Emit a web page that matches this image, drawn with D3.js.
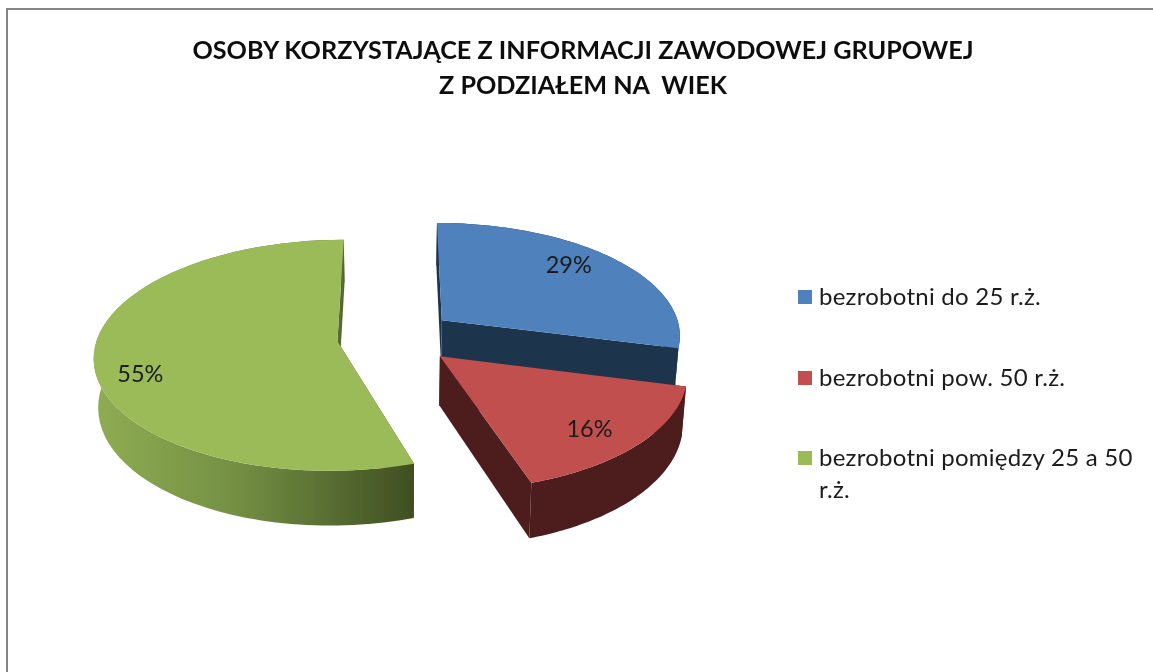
<!DOCTYPE html>
<html><head><meta charset="utf-8">
<script src="https://cdnjs.cloudflare.com/ajax/libs/d3/7.8.5/d3.min.js"></script>
<style>html,body{margin:0;background:#fff;overflow:hidden}svg{display:block}</style></head>
<body><svg id="c" width="1153" height="672"></svg>
<script>
const categories = ["bezrobotni do 25 r.ż.", "bezrobotni pow. 50 r.ż.", "bezrobotni pomiędzy 25 a 50 r.ż."];
const values = [29, 16, 55];
const topColors = ["#4f81bd", "#c0504d", "#9bbb59"];
const sideColors = ["#1f344e", "#4e1e1c", "url(#greenSide)"];
const titleLines = ["OSOBY KORZYSTAJĄCE Z INFORMACJI ZAWODOWEJ GRUPOWEJ", "Z PODZIAŁEM NA  WIEK"];

const W = 1153, H = 672;
const svg = d3.select("#c");
const R = 240, explode = 59, depth = 48, k = 0.47, persp = 0.12, cx = 396, cy = 337;
const labelRadius = [0.8, 0.8, 0.83], labelShift = [-0.09, 0.05, -0.185];

const pie = d3.pie().sort(null).value(d => d)(values);

// ground plane -> screen, with a single vanishing point
function proj(X, Z, low) {
  const s = 1 / (1 - persp * Z / R);
  const shrink = low ? 0.985 : 1;
  return [cx + X * s * shrink, cy + k * Z * s + (low ? depth * s : 0)];
}
const line = d3.line();

const defs = svg.append("defs");
const g = defs.append("linearGradient").attr("id", "greenSide").attr("gradientUnits", "userSpaceOnUse")
  .attr("x1", 93).attr("x2", 416).attr("y1", 0).attr("y2", 0);
g.append("stop").attr("offset", 0).attr("stop-color", "#8fad53");
g.append("stop").attr("offset", 0.45).attr("stop-color", "#738f43");
g.append("stop").attr("offset", 1).attr("stop-color", "#3f4e22");
defs.append("filter").attr("id", "soft").attr("x", "-5%").attr("y", "-5%").attr("width", "110%").attr("height", "110%")
  .append("feGaussianBlur").attr("stdDeviation", 0.55);

const root = svg.append("g").attr("filter", "url(#soft)");

// frame
root.append("path").attr("d", d3.line()([[7, H + 20], [7, 9], [W + 20, 9]]))
  .attr("fill", "none").attr("stroke", "#868686").attr("stroke-width", 2);

const drawOrder = [2, 0, 1];
const pieG = root.append("g");
drawOrder.forEach(i => {
  const sl = pie[i];
  const mid = (sl.startAngle + sl.endAngle) / 2;
  const ox = explode * Math.sin(mid), oz = -explode * Math.cos(mid);
  const steps = d3.range(0, 61).map(t => sl.startAngle + (sl.endAngle - sl.startAngle) * t / 60);
  const rim = steps.map(a => [ox + R * Math.sin(a), oz - R * Math.cos(a)]);
  const apex = [ox, oz];
  const grp = pieG.append("g");
  const quad = (a, b) => line([proj(a[0], a[1]), proj(b[0], b[1]), proj(b[0], b[1], true), proj(a[0], a[1], true)]) + "Z";
  // radial walls
  grp.append("path").attr("d", quad(apex, rim[0])).attr("fill", sideColors[i]);
  grp.append("path").attr("d", quad(apex, rim[60])).attr("fill", sideColors[i]);
  // outer wall, one outline
  const outer = rim.map(p => proj(p[0], p[1])).concat(rim.slice().reverse().map(p => proj(p[0], p[1], true)));
  grp.append("path").attr("d", line(outer) + "Z").attr("fill", sideColors[i]);
  // top
  grp.append("path").attr("d", line([apex].concat(rim).map(p => proj(p[0], p[1]))) + "Z").attr("fill", topColors[i]);
  // value label
  const la = mid + labelShift[i];
  const lp = proj(ox + R * labelRadius[i] * Math.sin(la), oz - R * labelRadius[i] * Math.cos(la));
  grp.append("text").attr("x", lp[0]).attr("y", lp[1]).attr("text-anchor", "middle").attr("dy", "0.35em")
    .attr("font-family", "Lato, sans-serif").attr("font-size", 23.5).attr("fill", "#1a1a1a")
    .text(values[i] + "%");
});

// title
root.append("g").selectAll("text").data(titleLines).join("text")
  .attr("x", 583).attr("y", (d, i) => 59 + i * 35).attr("text-anchor", "middle")
  .attr("font-family", "Lato, sans-serif").attr("font-weight", 700).attr("font-size", 25.2).attr("fill", "#111")
  .style("white-space", "pre")
  .text(d => d);

// legend
const legendRows = [[categories[0]], [categories[1]], ["bezrobotni pomiędzy 25 a 50", "r.ż."]];
const ly = d3.scaleOrdinal().domain([0, 1, 2]).range([297, 378, 458]);
const leg = root.append("g").selectAll("g").data(legendRows).join("g")
  .attr("transform", (d, i) => `translate(0,${ly(i)})`);
leg.append("rect").attr("x", 798).attr("y", -7).attr("width", 14).attr("height", 14).attr("fill", (d, i) => topColors[i]);
leg.each(function (rows) {
  d3.select(this).selectAll("text").data(rows).join("text")
    .attr("x", 819).attr("y", (d, i) => 8 + i * 32)
    .attr("font-family", "Lato, sans-serif").attr("font-size", 24).attr("letter-spacing", 0.25).attr("fill", "#1a1a1a")
    .text(d => d);
});
</script></body></html>
